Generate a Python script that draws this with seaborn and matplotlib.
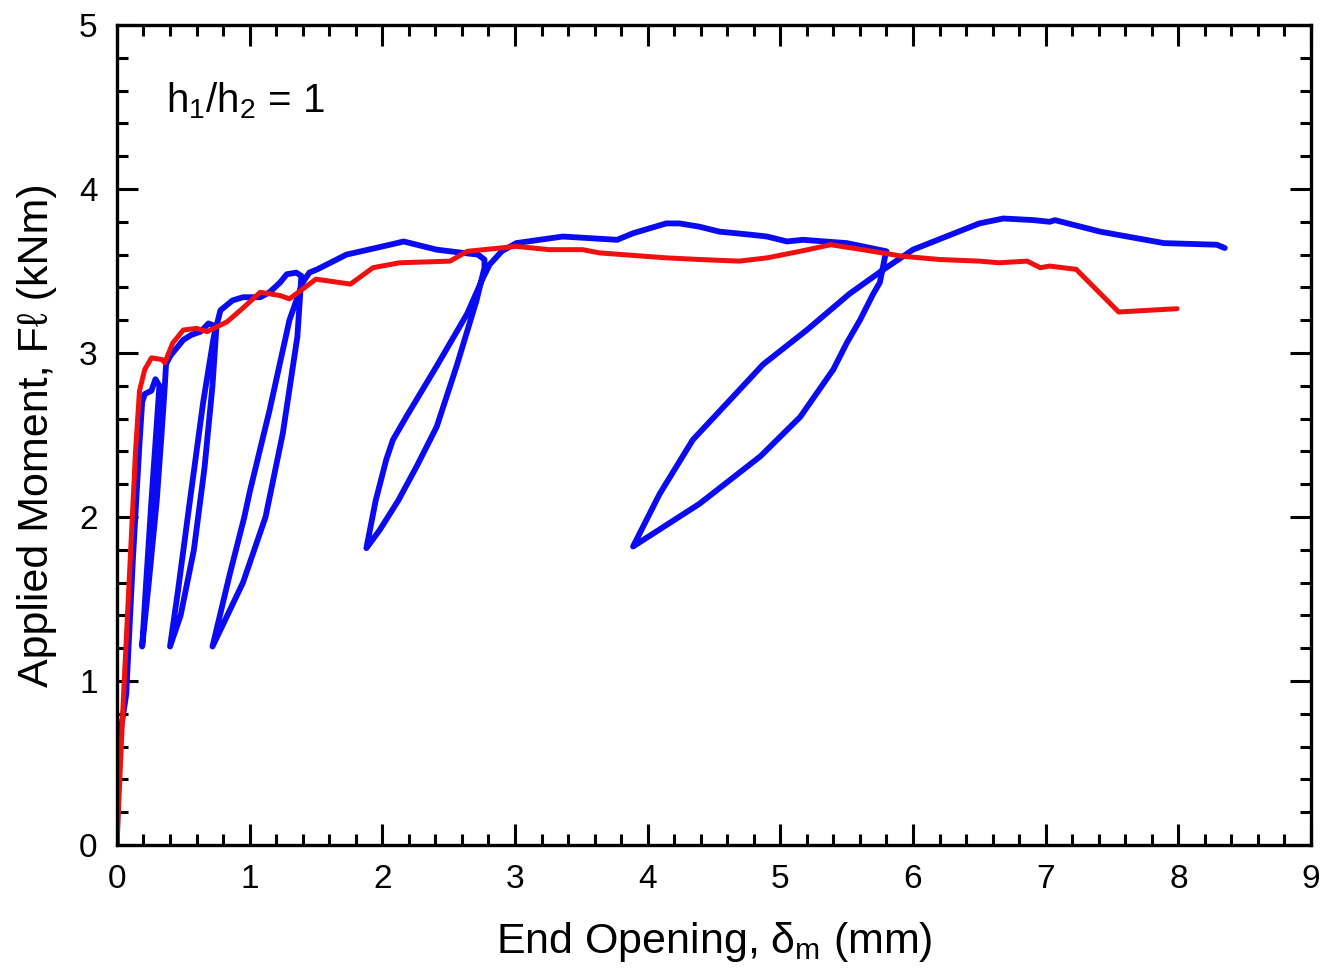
import numpy as np
import pandas as pd
import matplotlib
matplotlib.use("Agg")
import matplotlib.pyplot as plt
from matplotlib.ticker import MultipleLocator
import seaborn as sns

# Cyclic test (unload/reload loops), blue
blue_x = [0.00, 0.01, 0.07, 0.12, 0.17, 0.19, 0.21, 0.26, 0.29, 0.32,
          0.29, 0.26, 0.22, 0.19,
          0.24, 0.30, 0.34, 0.36, 0.37, 0.40, 0.50, 0.56, 0.63, 0.69, 0.75,
          0.72, 0.66, 0.58, 0.48, 0.40,
          0.46, 0.55, 0.65, 0.73, 0.78, 0.87, 0.95, 1.08, 1.15, 1.23, 1.28, 1.35, 1.39,
          1.36, 1.25, 1.12, 0.95, 0.72,
          0.85, 0.96, 1.00, 1.15, 1.30, 1.40, 1.45, 1.51, 1.73, 1.95, 2.11, 2.16,
          2.41, 2.61, 2.72, 2.77, 2.77,
          2.71, 2.56, 2.41, 2.26, 2.12, 1.98, 1.88,
          1.95, 2.03, 2.08, 2.18, 2.41, 2.64, 2.76, 2.81, 2.90, 3.01, 3.36, 3.77,
          3.89, 4.14, 4.24, 4.39, 4.54, 4.79, 4.90, 5.05, 5.17, 5.50, 5.80, 5.79,
          5.75, 5.70, 5.60, 5.50, 5.40, 5.15, 4.85, 4.39, 3.89,
          4.09, 4.34, 4.64, 4.87, 5.20, 5.52, 5.78, 6.00, 6.25, 6.50, 6.68, 6.91,
          7.03, 7.07, 7.41, 7.89, 8.29, 8.35]
blue_y = [0.00, 0.60, 0.92, 1.74, 2.45, 2.70, 2.75, 2.77, 2.84, 2.80,
          2.45, 2.10, 1.60, 1.21,
          1.60, 2.10, 2.55, 2.79, 2.93, 2.98, 3.08, 3.11, 3.13, 3.18, 3.16,
          2.80, 2.30, 1.80, 1.40, 1.21,
          1.55, 2.10, 2.70, 3.10, 3.26, 3.32, 3.34, 3.34, 3.37, 3.43, 3.48, 3.49, 3.47,
          3.10, 2.51, 2.00, 1.60, 1.21,
          1.65, 2.00, 2.15, 2.65, 3.20, 3.43, 3.49, 3.51, 3.60, 3.64, 3.67, 3.68,
          3.63, 3.61, 3.60, 3.57, 3.52,
          3.32, 2.92, 2.55, 2.31, 2.10, 1.92, 1.81,
          2.10, 2.35, 2.47, 2.61, 2.92, 3.24, 3.46, 3.54, 3.62, 3.67, 3.71, 3.69,
          3.73, 3.79, 3.79, 3.77, 3.74, 3.72, 3.71, 3.68, 3.69, 3.67, 3.62, 3.59,
          3.43, 3.36, 3.20, 3.06, 2.90, 2.61, 2.37, 2.08, 1.82,
          2.14, 2.47, 2.73, 2.93, 3.14, 3.36, 3.51, 3.63, 3.71, 3.79, 3.82, 3.81,
          3.80, 3.81, 3.74, 3.67, 3.66, 3.64]

# Monotonic test, red
red_x = [0.00, 0.01, 0.05, 0.10, 0.14, 0.17, 0.21, 0.26, 0.34, 0.36, 0.42, 0.50,
         0.60, 0.68, 0.78, 0.83, 0.93, 1.08, 1.23, 1.30, 1.50, 1.76, 1.93, 2.13,
         2.51, 2.64, 2.89, 3.01, 3.26, 3.51, 3.64, 4.14, 4.39, 4.69, 4.90, 5.15,
         5.38, 5.62, 5.92, 6.20, 6.50, 6.65, 6.86, 6.96, 7.03, 7.23, 7.55, 7.99]
red_y = [0.00, 0.19, 0.92, 1.74, 2.40, 2.77, 2.90, 2.97, 2.96, 2.94, 3.06, 3.14,
         3.15, 3.13, 3.17, 3.19, 3.26, 3.37, 3.35, 3.33, 3.45, 3.42, 3.52, 3.55,
         3.56, 3.62, 3.64, 3.65, 3.63, 3.63, 3.61, 3.58, 3.57, 3.56, 3.58, 3.62,
         3.66, 3.63, 3.59, 3.57, 3.56, 3.55, 3.56, 3.52, 3.53, 3.51, 3.25, 3.27]

x_ticks = [0, 1, 2, 3, 4, 5, 6, 7, 8, 9]
y_ticks = [0, 1, 2, 3, 4, 5]

sns.set_theme(style="white")
plt.rcParams["font.family"] = ["Liberation Sans", "DejaVu Sans"]
plt.rcParams["text.color"] = "black"
plt.rcParams["axes.labelcolor"] = "black"
plt.rcParams["xtick.color"] = "black"
plt.rcParams["ytick.color"] = "black"
plt.rcParams["mathtext.fontset"] = "custom"
plt.rcParams["mathtext.rm"] = "Liberation Sans"
plt.rcParams["mathtext.it"] = "Liberation Sans"
plt.rcParams["mathtext.bf"] = "Liberation Sans:bold"

fig = plt.figure(figsize=(13.2, 9.72), dpi=100)
ax = fig.add_axes([0.0886, 0.1307, 0.9046, 0.8436])

blue_df = pd.DataFrame({"x": blue_x, "y": blue_y})
red_df = pd.DataFrame({"x": red_x, "y": red_y})

sns.lineplot(data=blue_df, x="x", y="y", sort=False, estimator=None,
             color="#0a0af5", linewidth=4.2, ax=ax)
sns.lineplot(data=red_df, x="x", y="y", sort=False, estimator=None,
             color="#f01010", linewidth=3.6, ax=ax)
for line in ax.get_lines():
    line.set_solid_joinstyle("round")
    line.set_solid_capstyle("round")

ax.set_xlim(0, 9)
ax.set_ylim(0, 5)
ax.set_xticks(x_ticks)
ax.set_yticks(y_ticks)
ax.set_xticklabels([str(t) for t in x_ticks])
ax.set_yticklabels([str(t) for t in y_ticks])
ax.xaxis.set_minor_locator(MultipleLocator(0.2))
ax.yaxis.set_minor_locator(MultipleLocator(0.2))
ax.tick_params(which="both", direction="in", top=True, right=True,
               bottom=True, left=True, color="black", width=2.2)
ax.tick_params(which="major", length=15, labelsize=24, labelcolor="black")
ax.tick_params(axis="x", which="major", pad=14)
ax.tick_params(axis="y", which="major", pad=14)
ax.tick_params(which="minor", length=8)

for s in ax.spines.values():
    s.set_color("black")
    s.set_linewidth(2.4)

ax.set_xlabel(r"End Opening, $\delta_\mathregular{m}$ (mm)", fontsize=31, labelpad=18)
ax.set_ylabel("Applied Moment, Fℓ (kNm)", fontsize=31, labelpad=16)

ax.text(0.37, 4.54, r"h$_\mathregular{1}$/h$_\mathregular{2}$ = 1",
        fontsize=29, ha="left", va="center")

fig.savefig("out.png", dpi=100, facecolor="white")
